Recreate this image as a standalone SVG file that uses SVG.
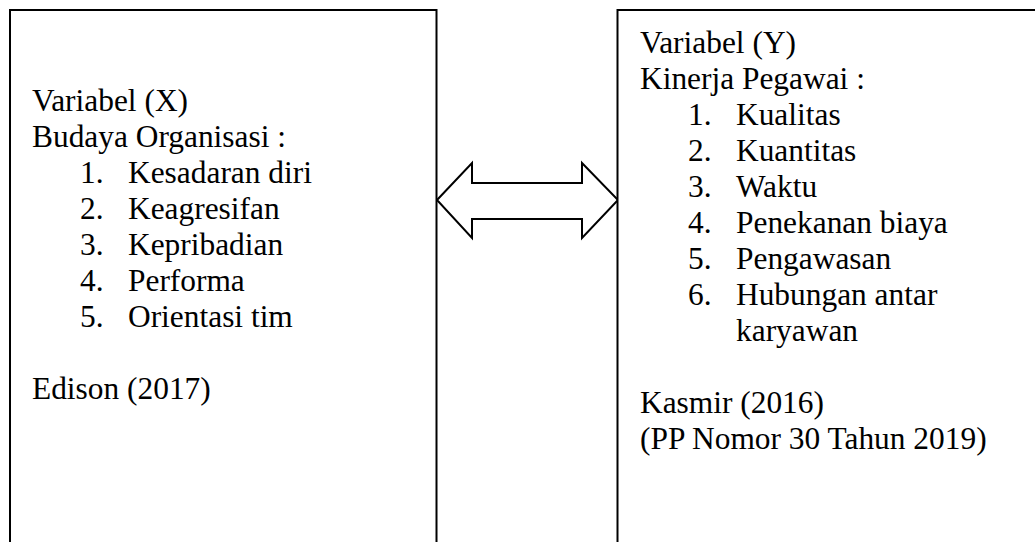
<svg xmlns="http://www.w3.org/2000/svg" width="1035" height="542" viewBox="0 0 1035 542">
<style>
.box{fill:#fff;stroke:#000;stroke-width:2}
.arrow{fill:#fff;stroke:#000;stroke-width:2;stroke-linejoin:miter}
text{font-family:"Liberation Serif","Times New Roman",serif;font-size:31.4px;fill:#000}
</style>
<rect width="1035" height="542" fill="#fff"/>
<g id="connectors">
<path class="arrow" d="M437,200 L472,163 L472,183 L582,183 L582,163 L618,200 L582,238 L582,219 L472,219 L472,238 Z"/>
</g>
<g id="node-x">
<rect class="box" x="10" y="10" width="426.5" height="560"/>
<text x="32" y="111">Variabel (X)</text>
<text x="32" y="147">Budaya Organisasi :</text>
<text x="80" y="183">1.</text><text x="128" y="183">Kesadaran diri</text>
<text x="80" y="219">2.</text><text x="128" y="219">Keagresifan</text>
<text x="80" y="255">3.</text><text x="128" y="255">Kepribadian</text>
<text x="80" y="291">4.</text><text x="128" y="291">Performa</text>
<text x="80" y="327">5.</text><text x="128" y="327">Orientasi tim</text>
<text x="32" y="399">Edison (2017)</text>
</g>
<g id="node-y">
<rect class="box" x="617.5" y="10" width="460" height="560"/>
<text x="640" y="53">Variabel (Y)</text>
<text x="640" y="89">Kinerja Pegawai :</text>
<text x="688" y="125">1.</text><text x="736" y="125">Kualitas</text>
<text x="688" y="161">2.</text><text x="736" y="161">Kuantitas</text>
<text x="688" y="197">3.</text><text x="736" y="197">Waktu</text>
<text x="688" y="233">4.</text><text x="736" y="233">Penekanan biaya</text>
<text x="688" y="269">5.</text><text x="736" y="269">Pengawasan</text>
<text x="688" y="305">6.</text><text x="736" y="305">Hubungan antar</text>
<text x="736" y="341">karyawan</text>
<text x="640" y="413">Kasmir (2016)</text>
<text x="640" y="449">(PP Nomor 30 Tahun 2019)</text>
</g>
</svg>
